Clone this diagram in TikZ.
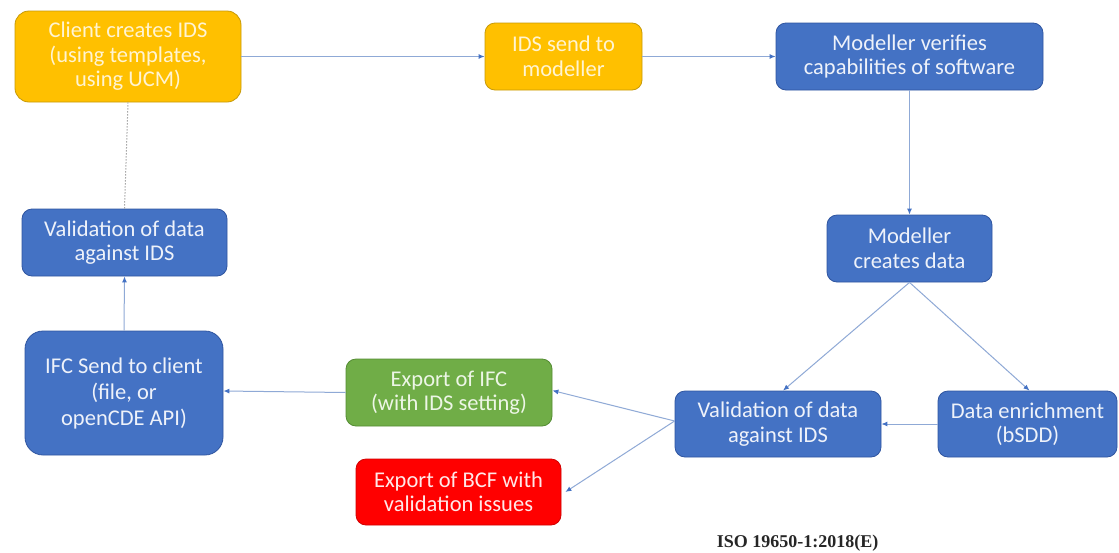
\documentclass[tikz,border=0pt]{standalone}
\usepackage{fontspec}
\setmainfont{Carlito}
\newfontfamily\isofont{Liberation Serif}
\usetikzlibrary{arrows.meta}

\definecolor{goldfill}{HTML}{FFC000}
\definecolor{golddraw}{HTML}{C79A08}
\definecolor{goldtext}{HTML}{FFF4D2}
\definecolor{bluefill}{HTML}{4472C4}
\definecolor{bluedraw}{HTML}{2F55A0}
\definecolor{bluetext}{HTML}{EEF2FA}
\definecolor{greenfill}{HTML}{70AD47}
\definecolor{greendraw}{HTML}{548C33}
\definecolor{greentext}{HTML}{EDF6E6}
\definecolor{redfill}{HTML}{FF0000}
\definecolor{reddraw}{HTML}{D00000}
\definecolor{redtext}{HTML}{FFE8E8}
\definecolor{linkcol}{HTML}{8FA9D6}
\definecolor{tipcol}{HTML}{4472C4}
\definecolor{dotcol}{HTML}{A8A8A8}

\tikzset{
  box/.style={rectangle, rounded corners=10pt, line width=0.8pt, align=center,
    inner sep=0pt, font=\fontsize{22.5}{24.5}\selectfont},
  goldbox/.style={box, fill=goldfill, draw=golddraw, text=goldtext},
  bluebox/.style={box, fill=bluefill, draw=bluedraw, text=bluetext},
  greenbox/.style={box, fill=greenfill, draw=greendraw, text=greentext},
  redbox/.style={box, fill=redfill, draw=reddraw, text=redtext},
  link/.style={draw=linkcol, line width=1pt,
    -{Latex[length=6pt,width=5pt,fill=tipcol,color=tipcol]}},
  dotlink/.style={draw=dotcol, line width=1pt, dash pattern=on 1.5pt off 1.5pt}
}

\begin{document}
\begin{tikzpicture}[x=1pt,y=-1pt]
\useasboundingbox[fill=white] (0,0) rectangle (1119,552);

% top row
\node[goldbox, rounded corners=14pt, minimum width=226pt, minimum height=91pt] (client) at (128,56.5)
  {Client creates IDS\\(using templates,\\using UCM)};
\node[goldbox, minimum width=157pt, minimum height=67pt] (send) at (563.5,56.5)
  {IDS send to\\modeller};
\node[bluebox, minimum width=267pt, minimum height=67pt] (verify) at (909.5,56.5)
  {Modeller verifies\\capabilities of software};

% right branch
\node[bluebox, minimum width=165pt, minimum height=67pt] (create) at (909.5,248.5)
  {Modeller\\creates data};
\node[bluebox, minimum width=206pt, minimum height=66pt] (valR) at (778,424)
  {Validation of data\\against IDS};
\node[bluebox, minimum width=179pt, minimum height=66pt] (enrich) at (1027.5,424)
  {Data enrichment\\(bSDD)};

% exports
\node[greenbox, minimum width=206pt, minimum height=67pt] (ifcexp) at (449,392.5)
  {Export of IFC\\(with IDS setting)};
\node[redbox, minimum width=205pt, minimum height=66pt] (bcfexp) at (458.5,492)
  {Export of BCF with\\validation issues};

% left column
\node[bluebox, rounded corners=18pt, minimum width=198pt, minimum height=124pt,
  font=\fontsize{22.5}{26}\selectfont] (ifcsend) at (124,393)
  {IFC Send to client\\(file, or\\openCDE API)};
\node[bluebox, minimum width=205pt, minimum height=67pt] (valL) at (124.5,242.5)
  {Validation of data\\against IDS};

% connectors
\draw[link] (client.east) -- (send.west);
\draw[link] (send.east) -- (verify.west);
\draw[link] (verify.south) -- (create.north);
\draw[link] (create.south) -- ([xshift=5pt]valR.north);
\draw[link] (create.south) -- ([xshift=2pt]enrich.north);
\draw[link] (enrich.west) -- (valR.east);
\draw[link] ([yshift=3pt]valR.west) -- ([yshift=2pt]ifcexp.east);
\draw[link] ([yshift=3pt]valR.west) -- ([xshift=4pt]bcfexp.east);
\draw[link] (ifcexp.west) -- ([yshift=2pt]ifcsend.east);
\draw[link] (ifcsend.north) -- (valL.south);
\draw[dotlink] (valL.north) -- (client.south);

% reference label
\node[font=\isofont\bfseries\fontsize{18}{20}\selectfont, text=black!85] (iso) at (797.5,543)
  {ISO 19650-1:2018(E)};
\end{tikzpicture}
\end{document}
